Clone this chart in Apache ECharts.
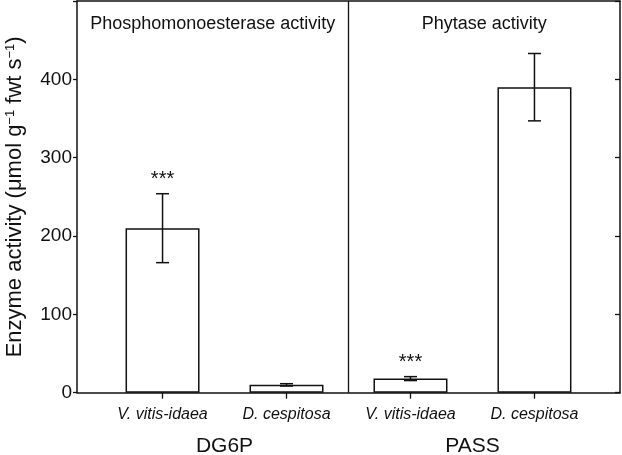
<!DOCTYPE html>
<html>
<head>
<meta charset="utf-8">
<script src="https://cdn.jsdelivr.net/npm/echarts@6/dist/echarts.min.js"></script>
<style>
html,body{margin:0;padding:0;background:#fff;}
#chart{width:622px;height:455px;}
</style>
</head>
<body>
<div id="chart"></div>
<script>
// ---- data ----
const categories = ['V. vitis-idaea', 'D. cespitosa', 'V. vitis-idaea', 'D. cespitosa'];
const groups = ['DG6P', 'PASS'];
const panelTitles = ['Phosphomonoesterase activity', 'Phytase activity'];
const means = [210, 10, 18, 390];
const errors = [44, 1.5, 2.5, 43];
const significance = ['***', '', '***', ''];
const yTickValues = [0, 100, 200, 300, 400];
const yMax = 500;

// ---- layout helpers ----
const FONT = "'Liberation Sans', Arial, Helvetica, sans-serif";
const INK = '#111';
const xMin = 0.31, xMax = 4.69;
const catPos = categories.map((c, i) => i + 1);
const groupPos = groups.map((g, i) => 2 * i + 1.5);
const divider = 2.5;
const titlePos = [(xMin + divider) / 2, (divider + xMax) / 2];

const chart = echarts.init(document.getElementById('chart'), null, {renderer: 'canvas'});

const option = {
  animation: false,
  backgroundColor: '#fff',
  textStyle: {fontFamily: FONT, color: INK},
  grid: {left: 77, right: 2, top: 1, bottom: 62.3, containLabel: false, outerBoundsMode: 'none'},
  xAxis: [
    {
      type: 'value', position: 'bottom', min: xMin, max: xMax,
      axisLine: {show: true, lineStyle: {color: INK, width: 1.5}},
      axisTick: {show: true, customValues: catPos, length: 6, lineStyle: {color: INK, width: 1.3}},
      axisLabel: {
        customValues: catPos, margin: 14, fontSize: 16, fontStyle: 'italic',
        fontFamily: FONT, color: INK,
        formatter: v => categories[catPos.indexOf(v)] || ''
      },
      splitLine: {show: false}
    },
    {
      type: 'value', position: 'top', min: xMin, max: xMax,
      axisLine: {show: true, onZero: false, lineStyle: {color: INK, width: 1.5}},
      axisTick: {show: false},
      axisLabel: {
        customValues: titlePos, inside: true, margin: 14, fontSize: 18,
        fontFamily: FONT, color: INK,
        formatter: v => panelTitles[titlePos.indexOf(v)] || ''
      },
      splitLine: {show: false}
    },
    {
      type: 'value', position: 'bottom', min: xMin, max: xMax,
      axisLine: {show: false}, axisTick: {show: false},
      axisLabel: {
        customValues: groupPos, margin: 43, fontSize: 21,
        fontFamily: FONT, color: INK,
        formatter: v => groups[groupPos.indexOf(v)] || ''
      },
      splitLine: {show: false}
    }
  ],
  yAxis: [
    {
      type: 'value', position: 'left', min: 0, max: yMax, interval: 100,
      axisLine: {show: true, lineStyle: {color: INK, width: 1.5}},
      axisTick: {show: true, length: 4, lineStyle: {color: INK, width: 1.3}},
      axisLabel: {
        margin: 5, fontSize: 19, fontFamily: FONT, color: INK,
        formatter: v => (yTickValues.indexOf(v) >= 0 ? String(v) : '')
      },
      splitLine: {show: false},
      name: 'Enzyme activity (μmol g{sup|−1} fwt s{sup|−1})',
      nameLocation: 'middle', nameGap: 51,
      nameTextStyle: {
        fontSize: 22, fontFamily: FONT, color: INK,
        rich: {sup: {fontSize: 13, fontFamily: FONT, color: INK, verticalAlign: 'top', lineHeight: 14}}
      }
    },
    {
      type: 'value', position: 'right', min: 0, max: yMax, interval: 100,
      axisLine: {show: true, onZero: false, lineStyle: {color: INK, width: 1.5}},
      axisTick: {show: true, inside: true, length: 5, lineStyle: {color: INK, width: 1.3}},
      axisLabel: {show: false},
      splitLine: {show: false}
    }
  ],
  series: [
    {
      type: 'bar', xAxisIndex: 0, yAxisIndex: 0, z: 2,
      data: means.map((m, i) => [catPos[i], m]),
      barWidth: 74,
      itemStyle: {color: '#fff', borderColor: INK, borderWidth: 1.5},
      silent: true,
      markLine: {
        silent: true, symbol: ['none', 'none'], label: {show: false},
        lineStyle: {color: INK, width: 1.3, type: 'solid'},
        data: [{xAxis: divider}]
      }
    },
    {
      type: 'custom', xAxisIndex: 0, yAxisIndex: 0, silent: true, z: 5,
      data: means.map((m, i) => [catPos[i], m, errors[i]]),
      renderItem: function (params, api) {
        const x = api.value(0), m = api.value(1), e = api.value(2);
        const top = api.coord([x, m + e]);
        const bot = api.coord([x, m - e]);
        const hw = 6.5;
        const st = {stroke: INK, lineWidth: 1.5};
        const children = [
          {type: 'line', shape: {x1: top[0], y1: top[1], x2: bot[0], y2: bot[1]}, style: st},
          {type: 'line', shape: {x1: top[0] - hw, y1: top[1], x2: top[0] + hw, y2: top[1]}, style: st},
          {type: 'line', shape: {x1: bot[0] - hw, y1: bot[1], x2: bot[0] + hw, y2: bot[1]}, style: st}
        ];
        const sig = significance[params.dataIndex];
        if (sig) {
          children.push({
            type: 'text',
            style: {
              text: sig, x: top[0], y: top[1] - 14,
              fill: INK, font: '20px ' + FONT,
              textAlign: 'center', textVerticalAlign: 'middle'
            }
          });
        }
        return {type: 'group', children: children};
      }
    }
  ]
};
chart.setOption(option);
</script>
</body>
</html>
